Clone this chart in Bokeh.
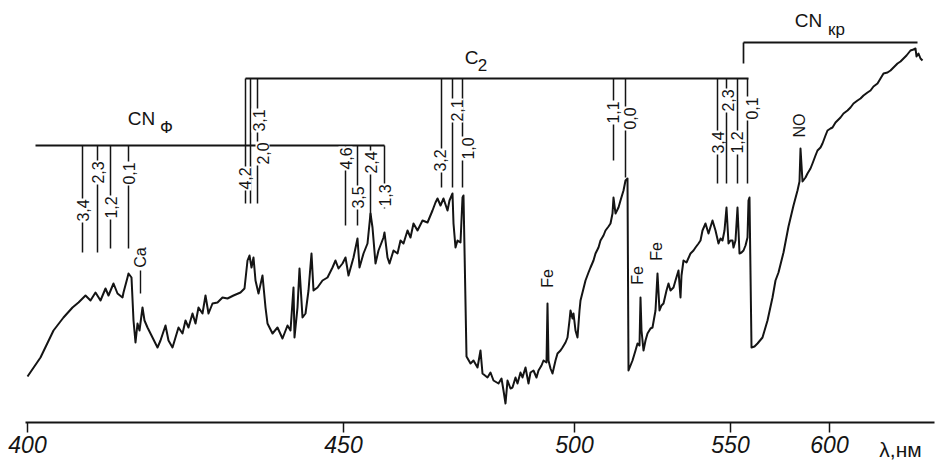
import numpy as np
from bokeh.plotting import figure
from bokeh.models import FixedTicker
from bokeh.core.properties import value
from bokeh.embed import file_html
from bokeh.resources import INLINE

# ---- microphotometer trace: plate position (arb. units) vs relative intensity ----
plate_pos = [0, 13, 26, 36, 45, 51, 58, 63, 68, 73, 78, 81, 86, 90, 95, 96, 100, 101, 104, 106,
             108, 110, 112, 115, 117, 120, 125, 130, 133, 138, 141, 145, 148, 151, 155, 158, 161, 165, 168, 171,
             175, 178, 181, 185, 190, 195, 200, 206, 213, 217, 220, 222, 224, 226, 228, 231, 235, 238, 240, 245,
             250, 255, 260, 263, 266, 267, 270, 272, 275, 278, 281, 284, 286, 290, 295, 300, 305, 308, 311, 315,
             318, 321, 326, 330, 332, 336, 340, 343, 345, 348, 351, 356, 357, 360, 362, 366, 370, 373, 376, 380,
             383, 386, 390, 395, 400, 405, 408, 410, 413, 416, 420, 422, 425, 426, 428, 430, 433, 435, 436, 439,
             443, 446, 450, 453, 455, 460, 463, 466, 471, 474, 476, 478, 480, 483, 485, 488, 490, 493, 495, 498,
             501, 503, 506, 509, 511, 514, 516, 519, 520, 521, 523, 525, 528, 530, 533, 535, 538, 540, 542, 543,
             545, 546, 548, 550, 552, 553, 558, 561, 563, 566, 568, 571, 573, 576, 578, 581, 583, 585, 586, 588,
             591, 593, 596, 598, 600, 601, 603, 605, 608, 610, 612, 613, 614, 616, 618, 620, 623, 625, 628, 630,
             632, 634, 636, 639, 641, 643, 646, 648, 651, 653, 654, 656, 659, 663, 666, 668, 671, 673, 675, 678,
             681, 685, 688, 691, 693, 695, 697, 699, 701, 703, 705, 706, 708, 710, 712, 714, 716, 718, 720, 721,
             722, 724, 727, 730, 735, 740, 745, 748, 751, 756, 761, 766, 770, 772, 773, 775, 778, 780, 783, 785,
             788, 790, 793, 795, 798, 800, 803, 805, 808, 810, 813, 816, 820, 823, 826, 830, 833, 836, 840, 843,
             846, 850, 853, 856, 860, 863, 866, 870, 873, 876, 879, 883, 886, 888, 889, 891, 893, 895]
intensity = [46, 65, 92, 105, 115, 120, 127, 122, 130, 122, 134, 127, 139, 129, 125, 130, 145, 149, 145, 102,
             80, 99, 92, 115, 102, 95, 85, 75, 82, 97, 82, 75, 85, 95, 89, 102, 95, 109, 99, 115,
             109, 127, 109, 119, 120, 125, 124, 127, 130, 134, 162, 167, 155, 165, 142, 129, 147, 115, 99, 89,
             95, 84, 97, 92, 135, 85, 115, 154, 105, 109, 132, 169, 132, 135, 142, 145, 155, 162, 154, 159,
             165, 147, 165, 184, 155, 169, 179, 209, 195, 159, 172, 185, 190, 165, 159, 172, 169, 182, 179, 192,
             185, 199, 192, 202, 200, 212, 220, 224, 217, 224, 212, 222, 229, 199, 175, 182, 180, 225, 227, 66,
             59, 62, 55, 72, 49, 45, 50, 42, 39, 44, 32, 19, 42, 34, 35, 45, 39, 50, 45, 55,
             39, 50, 52, 45, 52, 57, 62, 60, 119, 62, 54, 49, 62, 69, 72, 75, 80, 85, 102, 112,
             104, 109, 92, 85, 112, 122, 142, 150, 155, 162, 169, 175, 182, 187, 192, 196, 199, 209, 225, 209,
             215, 222, 232, 242, 244, 52, 57, 62, 72, 79, 77, 125, 92, 72, 82, 89, 94, 95, 112, 149,
             112, 117, 119, 132, 139, 132, 135, 142, 152, 125, 147, 162, 160, 169, 172, 175, 179, 182, 192, 199,
             189, 202, 192, 179, 184, 182, 192, 215, 179, 182, 182, 175, 182, 215, 169, 170, 172, 177, 185, 222,
             225, 75, 76, 79, 85, 102, 125, 142, 150, 170, 196, 217, 232, 241, 274, 241, 245, 249, 254, 259,
             267, 272, 275, 279, 287, 292, 294, 295, 300, 302, 305, 309, 312, 315, 319, 322, 324, 327, 330, 332,
             336, 339, 344, 349, 350, 352, 355, 359, 361, 364, 367, 372, 373, 374, 366, 369, 364, 362]

# ---- wavelength scale (nm) at plate positions ----
tick_pos = [0, 316, 547, 703, 802]
tick_lab = ["400", "450", "500", "550", "600"]
unit_text = ["λ,нм"]
unit_x = [873]
unit_y = [-27]

# ---- band systems: brackets (x0, x1, level) ----
bracket_x0 = [8, 218, 716]
bracket_x1 = [357, 721, 890]
bracket_y = [277, 344, 380]

# ---- band heads: position, top, bottom ----
head_x = [55, 70, 83, 101, 318, 330, 343, 357,
          218, 223, 230, 414, 425, 435, 586, 598, 690, 699, 710, 720]
head_top = [277] * 8 + [344] * 12
head_bot = [170, 170, 174, 174, 197, 197, 202, 214,
            219, 219, 219, 235, 235, 235, 262, 245, 239, 239, 239, 239]

# ---- vibrational labels (v', v'') ----
vib_text = ["3,4", "2,3", "1,2", "0,1", "4,6", "3,5", "2,4", "1,3",
            "4,2", "3,1", "2,0", "3,2", "2,1", "1,0", "1,1", "0,0",
            "3,4", "2,3", "1,2", "0,1"]
vib_x = [55, 70, 83, 101, 318, 330, 343, 357,
         217, 231, 235, 412, 429, 440, 585, 602, 690, 700, 709, 724]
vib_y = [212, 250, 215, 249, 264, 225, 260, 227,
         244, 302, 269, 262, 312, 274, 310, 304, 280, 322, 280, 314]

# ---- molecule names ----
mol_text = ["CN", "C", "CN"]
mol_x = [114, 444, 781]
mol_y = [304, 365, 402]
sub_text = ["Ф", "2", "кр"]
sub_x = [139, 455, 809]
sub_y = [295, 358, 393]

# ---- atomic / other lines ----
atom_text = ["Ca", "Fe", "Fe", "Fe", "NO"]
atom_x = [113, 520, 610, 629, 772]
atom_y = [165, 144, 147, 171, 297]

ink = "#141414"
FONT = "Liberation Sans"

p = figure(width=937, height=466, x_range=(-27, 910), y_range=(-44, 422),
           toolbar_location=None, output_backend="svg", y_axis_location=None,
           min_border_left=0, min_border_right=0, min_border_top=0, min_border_bottom=0)
p.grid.visible = False
p.outline_line_color = None
p.background_fill_color = "white"
p.border_fill_color = "white"

# spectrum
p.line(plate_pos, intensity, line_color=ink, line_width=2.0, line_join="round")

# brackets
p.segment(x0=bracket_x0, y0=bracket_y, x1=bracket_x1, y1=bracket_y, line_color=ink, line_width=1.9)
p.segment(x0=[bracket_x0[2]], y0=[bracket_y[2]], x1=[bracket_x0[2]], y1=[bracket_y[2] - 21],
          line_color=ink, line_width=1.7)
# band heads
p.segment(x0=head_x, y0=head_top, x1=head_x, y1=head_bot, line_color=ink, line_width=1.5)
# Ca marker
p.segment(x0=[atom_x[0]], y0=[129], x1=[atom_x[0]], y1=[152], line_color=ink, line_width=1.4)

p.text(x=vib_x, y=vib_y, text=vib_text, angle=np.pi / 2, text_align="center",
       text_baseline="middle", text_font=value(FONT), text_font_size="16px",
       text_color=ink, background_fill_color="white", padding=1)

p.text(x=mol_x, y=mol_y, text=mol_text, text_align="center", text_baseline="middle",
       text_font=value(FONT), text_font_size="19px", text_color=ink)
p.text(x=sub_x, y=sub_y, text=sub_text, text_align="center", text_baseline="middle",
       text_font=value(FONT), text_font_size="17px", text_color=ink)
p.text(x=atom_x, y=atom_y, text=atom_text, angle=np.pi / 2, text_align="center",
       text_baseline="middle", text_font=value(FONT), text_font_size="16px", text_color=ink)

# wavelength unit next to the scale
p.text(x=unit_x, y=unit_y, text=unit_text, text_align="center", text_baseline="middle",
       text_font=value(FONT), text_font_size="21px", text_color=ink)

# axis (drawn at zero intensity level)
ax = p.xaxis[0]
ax.fixed_location = 0
ax.ticker = FixedTicker(ticks=tick_pos)
ax.major_label_overrides = dict(zip(tick_pos, tick_lab))
ax.minor_tick_line_color = None
ax.major_tick_in = 0
ax.major_tick_out = 10
ax.major_tick_line_width = 1.5
ax.major_tick_line_color = ink
ax.axis_line_width = 2
ax.axis_line_color = ink
ax.major_label_standoff = 3
ax.major_label_text_font = FONT
ax.major_label_text_font_style = "italic"
ax.major_label_text_font_size = "23px"
ax.major_label_text_color = ink
ax.bounds = (-2, 907)

open("out.html", "w").write(file_html(p, INLINE))
